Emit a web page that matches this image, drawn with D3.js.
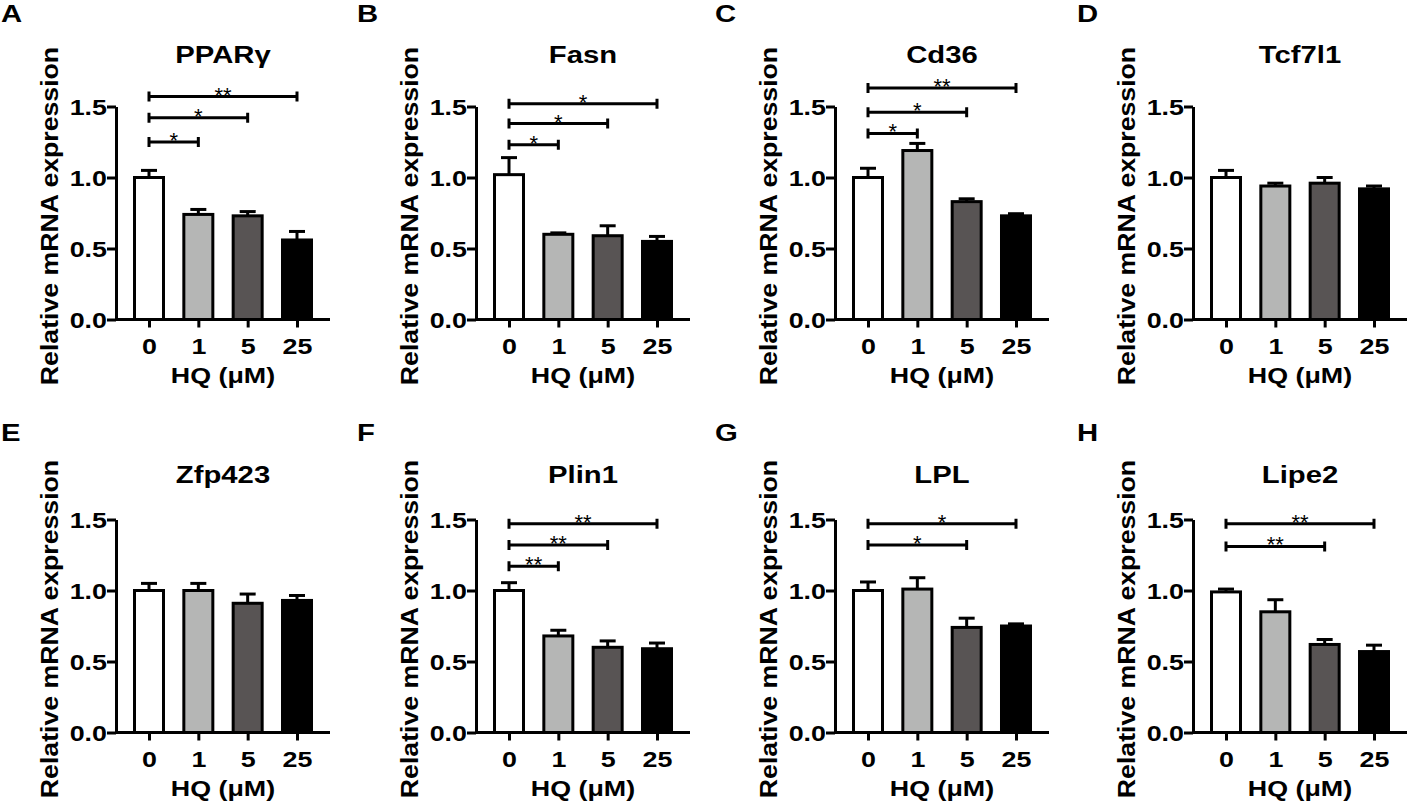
<!DOCTYPE html>
<html>
<head>
<meta charset="utf-8">
<script src="https://cdn.jsdelivr.net/npm/d3@7"></script>
<style>
  body { margin: 0; background: #fff; }
  svg text { font-family: "Liberation Sans", Arial, sans-serif; font-weight: bold; fill: #000; }
</style>
</head>
<body>
<svg id="fig" width="1407" height="804"></svg>
<script>
const doses = ['0', '1', '5', '25'];
const genes = ['PPARγ', 'Fasn', 'Cd36', 'Tcf7l1', 'Zfp423', 'Plin1', 'LPL', 'Lipe2'];
const letters = ['A', 'B', 'C', 'D', 'E', 'F', 'G', 'H'];
const yTicks = [0, 0.5, 1.0, 1.5];

// mean relative expression per gene (dose 0, 1, 5, 25)
const means = [
  [1.00, 0.74, 0.73, 0.56],
  [1.02, 0.60, 0.59, 0.55],
  [1.00, 1.19, 0.83, 0.73],
  [1.00, 0.94, 0.96, 0.92],
  [1.00, 1.00, 0.91, 0.93],
  [1.00, 0.68, 0.60, 0.59],
  [1.00, 1.01, 0.74, 0.75],
  [0.99, 0.85, 0.62, 0.57]
];
// upper error (SEM)
const sems = [
  [0.05, 0.035, 0.03, 0.06],
  [0.12, 0.01, 0.07, 0.035],
  [0.065, 0.05, 0.02, 0.015],
  [0.05, 0.02, 0.04, 0.02],
  [0.05, 0.05, 0.065, 0.035],
  [0.055, 0.04, 0.045, 0.04],
  [0.06, 0.08, 0.065, 0.015],
  [0.02, 0.085, 0.035, 0.045]
];
// significance vs dose 0: [target index, bracket level, label]
const brackets = [
  [[1, 1.25, '*'], [2, 1.42, '*'], [3, 1.57, '**']],
  [[1, 1.23, '*'], [2, 1.38, '*'], [3, 1.52, '*']],
  [[1, 1.31, '*'], [2, 1.46, '*'], [3, 1.63, '**']],
  [],
  [],
  [[1, 1.17, '**'], [2, 1.32, '**'], [3, 1.47, '**']],
  [[2, 1.32, '*'], [3, 1.47, '*']],
  [[2, 1.31, '**'], [3, 1.47, '**']]
];
const fills = ['#ffffff', '#b5b6b5', '#585454', '#000000'];

const colX = [116, 476, 835, 1193];
const letterX = [1, 357, 715, 1077];
const rowBase = [319.5, 732.5];
const titleY = [63, 483];
const letterY = [22, 441];
const plotW = 214, plotH = 213;
const sx = 1.22; // text in the figure is horizontally wide
const lw = 3;

const svg = d3.select('#fig');

function wideText(g, x, y, str, size, anchor) {
  return g.append('text')
    .attr('transform', `translate(${x},${y}) scale(${sx},1)`)
    .attr('text-anchor', anchor || 'middle')
    .style('font-size', size + 'px')
    .text(str);
}

genes.forEach((gene, p) => {
  const col = p % 4, row = Math.floor(p / 4);
  const x0 = colX[col], base = rowBase[row];
  const g = svg.append('g');

  const x = d3.scalePoint().domain(doses).range([x0, x0 + plotW]).padding(0.669);
  const y = d3.scaleLinear().domain([0, 1.5]).range([base, base - plotH]);
  const barW = 29;

  // bars
  g.selectAll('rect.bar')
    .data(means[p])
    .enter()
    .append('rect')
    .attr('x', (d, i) => x(doses[i]) - barW / 2)
    .attr('y', d => y(d))
    .attr('width', barW)
    .attr('height', d => y(0) - y(d))
    .attr('fill', (d, i) => fills[i])
    .attr('stroke', '#000')
    .attr('stroke-width', lw);

  // error bars (upper only)
  means[p].forEach((m, i) => {
    const cx = x(doses[i]);
    g.append('line')
      .attr('x1', cx).attr('x2', cx)
      .attr('y1', y(m)).attr('y2', y(m + sems[p][i]))
      .attr('stroke', '#000').attr('stroke-width', lw);
    g.append('line')
      .attr('x1', cx - 8).attr('x2', cx + 8)
      .attr('y1', y(m + sems[p][i])).attr('y2', y(m + sems[p][i]))
      .attr('stroke', '#000').attr('stroke-width', lw);
  });

  // y axis
  const ya = g.append('g')
    .attr('transform', `translate(${x0},0)`)
    .call(d3.axisLeft(y).tickValues(yTicks).tickFormat(d3.format('.1f')).tickSize(9).tickSizeOuter(0));
  ya.select('.domain').attr('stroke-width', lw);
  ya.selectAll('.tick line').attr('stroke-width', lw);
  ya.selectAll('.tick text')
    .attr('x', null).attr('dy', null)
    .attr('transform', `translate(-9,8) scale(${sx},1)`)
    .attr('font-family', null).attr('font-size', null)
    .style('font-size', '22px');

  // x axis
  const xa = g.append('g')
    .attr('transform', `translate(0,${base})`)
    .call(d3.axisBottom(x).tickSize(8).tickSizeOuter(0));
  xa.select('.domain').attr('stroke-width', lw).attr('d', `M${x0 - 1},0H${x0 + plotW}`);
  xa.selectAll('.tick line').attr('stroke-width', lw);
  xa.selectAll('.tick text')
    .attr('y', null).attr('dy', null)
    .attr('transform', `translate(0,34) scale(${sx},1)`)
    .attr('font-family', null).attr('font-size', null)
    .style('font-size', '22px');

  // significance brackets
  brackets[p].forEach(([j, lev, lab]) => {
    const xa0 = x(doses[0]), xb = x(doses[j]), yy = y(lev);
    g.append('path')
      .attr('d', `M${xa0},${yy - 5}V${yy + 5}M${xa0},${yy}H${xb}M${xb},${yy - 5}V${yy + 5}`)
      .attr('fill', 'none').attr('stroke', '#000').attr('stroke-width', lw);
    g.append('text')
      .attr('x', (xa0 + xb) / 2).attr('y', yy + 6)
      .attr('text-anchor', 'middle')
      .style('font-size', '22px').style('font-weight', 'normal')
      .text(lab);
  });

  // titles and labels
  const cx = (x(doses[0]) + x(doses[3])) / 2;
  wideText(g, cx, titleY[row], gene, 24);
  wideText(g, cx, base + 63, 'HQ (μM)', 22);
  wideText(g, letterX[col], letterY[row], letters[p], 24, 'start');

  g.append('text')
    .attr('transform', `translate(${x0 - 58},${base - plotH / 2 + 3}) rotate(-90) scale(1.16,1)`)
    .attr('text-anchor', 'middle')
    .style('font-size', '23px')
    .text('Relative mRNA expression');
});
</script>
</body>
</html>
